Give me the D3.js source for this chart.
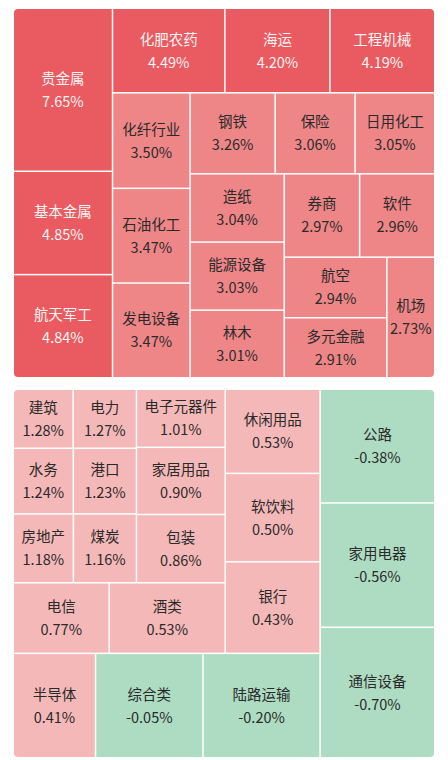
<!DOCTYPE html>
<html><head><meta charset="utf-8">
<script src="https://cdn.jsdelivr.net/npm/d3@7"></script>
<style>body{margin:0;background:#fff}svg{display:block}</style>
</head><body>
<svg id="c" width="448" height="760"></svg>
<script>
// Top panel: area proportional to value
const topNames = ["贵金属","基本金属","航天军工","化肥农药","海运","工程机械","化纤行业","石油化工","发电设备","钢铁","保险","日用化工","造纸","能源设备","林木","券商","软件","航空","多元金融","机场"];
const topValues = [7.65,4.85,4.84,4.49,4.20,4.19,3.50,3.47,3.47,3.26,3.06,3.05,3.04,3.03,3.01,2.97,2.96,2.94,2.91,2.73];
// Bottom panel
const botNames = ["建筑","电力","水务","港口","房地产","煤炭","电子元器件","家居用品","包装","电信","酒类","休闲用品","软饮料","银行","半导体","综合类","陆路运输","公路","家用电器","通信设备"];
const botValues = [1.28,1.27,1.24,1.23,1.18,1.16,1.01,0.90,0.86,0.77,0.53,0.53,0.50,0.43,0.41,-0.05,-0.20,-0.38,-0.56,-0.70];
const botSizes = [35,37,39,41,41,43,51,59,60,67,81,79,83,86,85,111,121,129,141,148];

const svg = d3.select("#c");
const font = "'Noto Sans CJK SC','Noto Sans',sans-serif";

function leaf(names, vals, sizes, i){ return {name:names[i], value:vals[i], size:sizes?sizes[i]:vals[i]}; }
function grp(...c){ return {children:c}; }

const T = i => leaf(topNames, topValues, null, i);
const topTree = grp(
  grp(T(0),T(1),T(2)),
  grp(
    grp(T(3),T(4),T(5)),
    grp(
      grp(T(6),T(7),T(8)),
      grp(
        grp(T(9),T(10),T(11)),
        grp(
          grp(T(12),T(13),T(14)),
          grp(
            grp(T(15),T(16)),
            grp(grp(T(17),T(18)), T(19))
          )
        )
      )
    )
  )
);
const B = i => leaf(botNames, botValues, botSizes, i);
const botTree = grp(
  grp(
    grp(
      grp(
        grp(
          grp(grp(B(0),B(1)),grp(B(2),B(3)),grp(B(4),B(5))),
          grp(B(6),B(7),B(8))
        ),
        grp(B(9),B(10))
      ),
      grp(B(11),B(12),B(13))
    ),
    grp(B(14),B(15),B(16))
  ),
  grp(B(17),B(18),B(19))
);

function color(v){
  if (v >= 4) return "#e95b60";
  if (v >= 2) return "#ee8688";
  if (v > 0) return "#f5b8b8";
  return "#aedcc3";
}
function textColor(v){ return v >= 4 ? "#fff3f3" : "#2a2a2a"; }

function draw(tree, x0, y0, x1, y1, id){
  const root = d3.hierarchy(tree).sum(d => d.children ? 0 : d.size);
  d3.treemap().tile(d3.treemapSliceDice).size([x1-x0, y1-y0]).paddingInner(1.5).round(false)(root);
  svg.append("clipPath").attr("id",id).append("rect")
    .attr("x",0).attr("y",0).attr("width",x1-x0).attr("height",y1-y0).attr("rx",4);
  const g = svg.append("g").attr("transform",`translate(${x0},${y0})`)
    .append("g").attr("clip-path",`url(#${id})`);
  const cells = g.selectAll("g").data(root.leaves()).join("g");
  cells.append("rect").attr("x",d=>d.x0).attr("y",d=>d.y0)
    .attr("width",d=>d.x1-d.x0).attr("height",d=>d.y1-d.y0)
    .attr("fill",d=>color(d.data.value));
  cells.append("text").attr("x",d=>(d.x0+d.x1)/2).attr("y",d=>(d.y0+d.y1)/2-6)
    .attr("text-anchor","middle").attr("font-family",font).attr("font-size",14.5)
    .attr("fill",d=>textColor(d.data.value)).text(d=>d.data.name);
  cells.append("text").attr("x",d=>(d.x0+d.x1)/2).attr("y",d=>(d.y0+d.y1)/2+17)
    .attr("text-anchor","middle").attr("font-family",font).attr("font-size",14.5)
    .attr("fill",d=>textColor(d.data.value)).text(d=>d.data.value.toFixed(2)+"%");
}
draw(topTree, 14, 9, 434, 377, "c1");
draw(botTree, 14, 390, 434, 757, "c2");
</script>
</body></html>
